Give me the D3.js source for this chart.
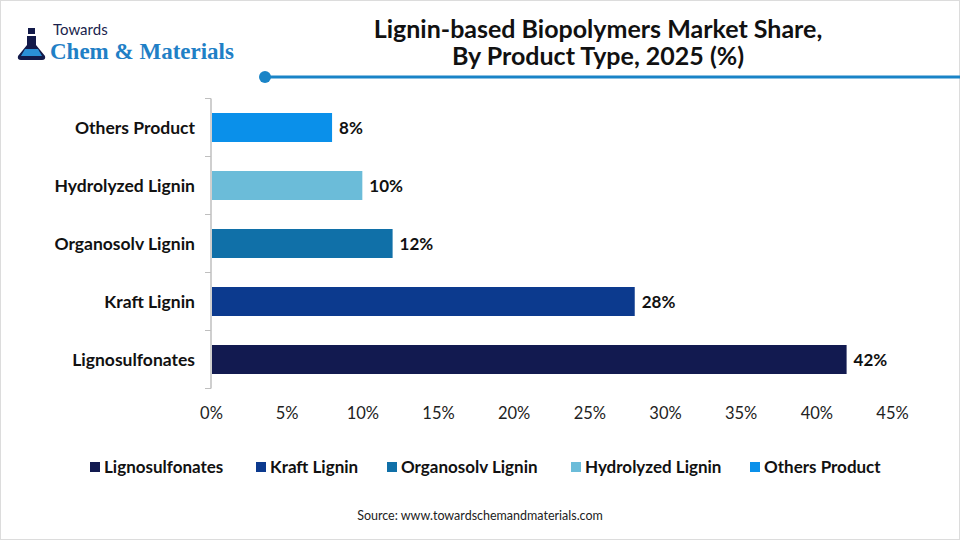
<!DOCTYPE html>
<html>
<head>
<meta charset="utf-8">
<script src="https://cdn.jsdelivr.net/npm/d3@7"></script>
<style>
  body { margin: 0; background: #fff; }
  svg { display: block; font-family: Lato, "Open Sans", sans-serif; }
</style>
</head>
<body>
<script>
// data
var categories = ["Lignosulfonates", "Kraft Lignin", "Organosolv Lignin", "Hydrolyzed Lignin", "Others Product"];
var shares = [42, 28, 12, 10, 8];
var colors = ["#121a50", "#0c3a8e", "#1070a8", "#6bbcd9", "#0a90ea"];
var xTicks = [0, 5, 10, 15, 20, 25, 30, 35, 40, 45];

var width = 960, height = 540;

var svg = d3.select("body").append("svg")
    .attr("width", width)
    .attr("height", height);

svg.append("rect")
    .attr("x", 0.5).attr("y", 0.5)
    .attr("width", width - 1).attr("height", height - 1)
    .attr("fill", "#fff")
    .attr("stroke", "#dcdcdc");

// logo
var logo = svg.append("g").attr("transform", "translate(16,20)");
logo.append("rect").attr("x", 12).attr("y", 8).attr("width", 7).attr("height", 6).attr("fill", "#131a4a");
logo.append("path")
    .attr("d", "M11,16 L20,16 L20,25 L29,36 Q30,40 26,40 L5,40 Q1,40 2,36 L11,25 Z")
    .attr("fill", "#131a4a");
logo.append("path")
    .attr("d", "M9,29 L22,29 L26,36 L5,36 Z")
    .attr("fill", "#2a8fd6");
logo.append("text")
    .attr("x", 37).attr("y", 15)
    .attr("font-size", 15)
    .attr("fill", "#1a1f4d")
    .text("Towards");
logo.append("text")
    .attr("x", 34).attr("y", 39)
    .attr("font-family", "'Liberation Serif', 'DejaVu Serif', serif")
    .attr("font-weight", "bold")
    .attr("font-size", 23)
    .attr("fill", "#1f80c6")
    .text("Chem & Materials");

// title
svg.append("text")
    .attr("x", 598).attr("y", 38)
    .attr("text-anchor", "middle")
    .attr("font-weight", "bold")
    .attr("font-size", 25)
    .attr("fill", "#111")
    .text("Lignin-based Biopolymers Market Share,");
svg.append("text")
    .attr("x", 598).attr("y", 65)
    .attr("text-anchor", "middle")
    .attr("font-weight", "bold")
    .attr("font-size", 25)
    .attr("fill", "#111")
    .text("By Product Type, 2025 (%)");

svg.append("line")
    .attr("x1", 265).attr("x2", width).attr("y1", 77).attr("y2", 77)
    .attr("stroke", "#1a84c7").attr("stroke-width", 3);
svg.append("circle")
    .attr("cx", 265).attr("cy", 77).attr("r", 6)
    .attr("fill", "#1a84c7");

// chart
var margin = { top: 98.5, left: 211 };
var plotW = 681, plotH = 290;

var x = d3.scaleLinear().domain([0, 45]).range([0, plotW]);
var y = d3.scaleBand()
    .domain(categories.slice().reverse())
    .range([0, plotH])
    .paddingInner(0.5)
    .paddingOuter(0.25);

var g = svg.append("g")
    .attr("transform", "translate(" + margin.left + "," + margin.top + ")");

// band ticks on the y axis
var bandEdges = d3.range(categories.length + 1).map(function (i) { return i * plotH / categories.length; });
g.selectAll(".ytick")
    .data(bandEdges)
    .enter()
    .append("line")
    .attr("x1", -6).attr("x2", 0)
    .attr("y1", function (d) { return d; })
    .attr("y2", function (d) { return d; })
    .attr("stroke", "#bfbfbf");

g.append("line")
    .attr("x1", 0).attr("x2", 0)
    .attr("y1", 0).attr("y2", plotH)
    .attr("stroke", "#bfbfbf")
    .attr("stroke-width", 1.5);

var data = categories.map(function (c, i) {
    return { name: c, value: shares[i], color: colors[i] };
});

g.selectAll(".bar")
    .data(data)
    .enter()
    .append("rect")
    .attr("class", "bar")
    .attr("x", 1)
    .attr("y", function (d) { return y(d.name); })
    .attr("width", function (d) { return x(d.value) - 1; })
    .attr("height", y.bandwidth())
    .attr("fill", function (d) { return d.color; });

g.selectAll(".val")
    .data(data)
    .enter()
    .append("text")
    .attr("x", function (d) { return x(d.value) + 7; })
    .attr("y", function (d) { return y(d.name) + y.bandwidth() / 2; })
    .attr("dy", "0.36em")
    .attr("font-weight", "bold")
    .attr("font-size", 17)
    .attr("fill", "#111")
    .text(function (d) { return d.value + "%"; });

g.selectAll(".cat")
    .data(data)
    .enter()
    .append("text")
    .attr("x", -16)
    .attr("y", function (d) { return y(d.name) + y.bandwidth() / 2; })
    .attr("dy", "0.36em")
    .attr("text-anchor", "end")
    .attr("font-weight", "bold")
    .attr("font-size", 17.5)
    .attr("fill", "#111")
    .text(function (d) { return d.name; });

var xAxis = g.append("g")
    .attr("transform", "translate(0," + plotH + ")")
    .call(d3.axisBottom(x).tickValues(xTicks).tickSize(0).tickPadding(19)
        .tickFormat(function (d) { return d + "%"; }));
xAxis.select(".domain").remove();
xAxis.selectAll("text")
    .attr("font-family", "Lato, 'Open Sans', sans-serif")
    .attr("font-size", 16.5)
    .attr("fill", "#222");

// legend
var legendX = [90, 256, 387, 571, 750];
var legend = svg.selectAll(".legend")
    .data(data)
    .enter()
    .append("g")
    .attr("transform", function (d, i) { return "translate(" + legendX[i] + ",467)"; });
legend.append("rect")
    .attr("x", 0).attr("y", -5)
    .attr("width", 10).attr("height", 10)
    .attr("fill", function (d) { return d.color; });
legend.append("text")
    .attr("x", 14)
    .attr("dy", "0.36em")
    .attr("font-weight", "bold")
    .attr("font-size", 17)
    .attr("fill", "#111")
    .text(function (d) { return d.name; });

svg.append("text")
    .attr("x", 480).attr("y", 520)
    .attr("text-anchor", "middle")
    .attr("font-size", 12.5)
    .attr("fill", "#222")
    .text("Source: www.towardschemandmaterials.com");
</script>
</body>
</html>
